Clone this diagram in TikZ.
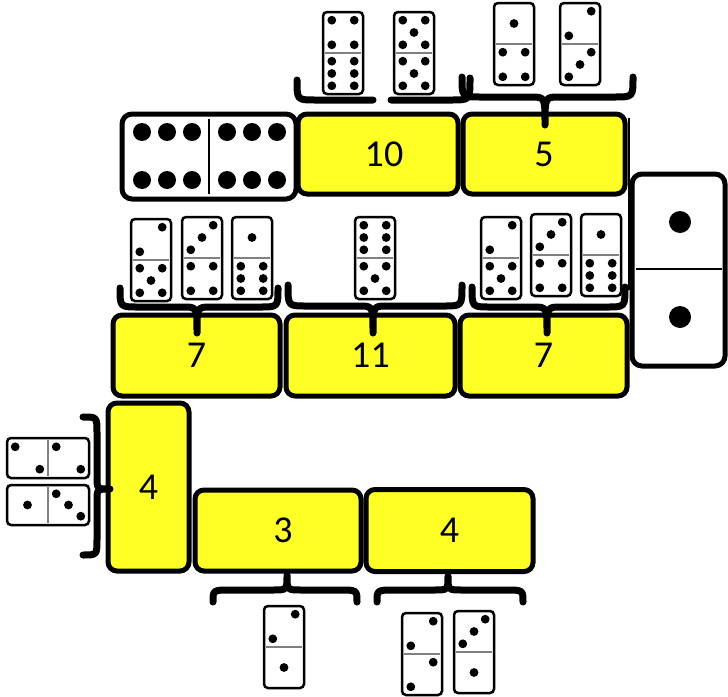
\documentclass[tikz,border=0pt]{standalone}
\usepackage{fontspec}
\setmainfont{Carlito}
\usetikzlibrary{positioning}

\definecolor{boxyellow}{RGB}{255,255,38}

% pips of one half of a domino (the half is the unit square)
\newcommand{\pips}[1]{%
  \ifcase#1\or
    \def\piplist{0.5/0.5}\or
    \def\piplist{0.78/0.2,0.22/0.8}\or
    \def\piplist{0.78/0.2,0.5/0.5,0.22/0.8}\or
    \def\piplist{0.22/0.2,0.78/0.2,0.22/0.8,0.78/0.8}\or
    \def\piplist{0.22/0.2,0.78/0.2,0.5/0.5,0.22/0.8,0.78/0.8}\or
    \def\piplist{0.22/0.2,0.78/0.2,0.22/0.5,0.78/0.5,0.22/0.8,0.78/0.8}\fi
  \foreach \pipx/\pipy in \piplist {\fill (\pipx,\pipy) circle[radius=4.4pt];}}

% small domino: [rotation]{x}{y}{top}{bottom}
\newcommand{\domino}[5][0]{%
  \begin{scope}[shift={(#2,#3)}, rotate=#1, x=40pt, y=-41pt]
    \draw[domino] (0,0) rectangle (1,2);
    \draw[pip line] (0.06,1) -- (0.94,1);
    \pips{#4}
    \begin{scope}[shift={(0,1)}]\pips{#5}\end{scope}
  \end{scope}}

% brace: left x, right x, line y, tip x, curl dy, tip dy
\newcommand{\hbrace}[6]{%
  \draw[brace line] (#1,{#3+(#5)}) .. controls (#1,#3) .. ({#1+18},#3)
    -- ({#4-14},#3) .. controls (#4,#3) .. (#4,{#3+(#6)})
    .. controls (#4,#3) .. ({#4+14},#3) -- ({#2-18},#3)
    .. controls (#2,#3) .. (#2,{#3+(#5)});}

\begin{document}
\begin{tikzpicture}[
        x=1pt, y=-1pt,
        num node/.style={rectangle, draw, line width=5pt, rounded corners=9pt,
                         fill=boxyellow, font=\fontsize{38}{42}\selectfont},
        domino/.style={draw, fill=white, line width=2.5pt, rounded corners=4pt},
        pip line/.style={draw=gray, line width=1.5pt},
        big domino/.style={draw, fill=white, line width=5pt, rounded corners=10pt},
        brace line/.style={line width=7pt, line cap=round, line join=round}
        ]
  \useasboundingbox (0,0) rectangle (728,696);

  % brace over the 10, its tip hidden
  \draw[brace line] (297,80) .. controls (297,100) .. (315,100) -- (373,100);
  \draw[brace line] (391,100) -- (452,100) .. controls (470,100) .. (470,78);

  % double six
  \draw[big domino] (122,114) rectangle (296,199);
  \draw[line width=1.5pt] (209,119) -- (209,194);
  \foreach \dx in {142,167,192,227,252,277}
    \foreach \dy in {132,180}
      \fill (\dx,\dy) circle[radius=9pt];

  % double one on the right
  \draw[big domino] (632,174) rectangle (725,366);
  \draw[line width=1.5pt] (636,269) -- (722,269);
  \fill (680,222) circle[radius=11pt] (680,317) circle[radius=11pt];
  \draw[line width=2pt] (629,118) -- (629,290);

  % number boxes
  \node[num node, minimum width=160pt, minimum height=80pt] (n10) at (378,154) {\hspace*{12pt}10};
  \node[num node, minimum width=162pt, minimum height=80pt] (n5) [right=0pt of n10] {5};
  \node[num node, minimum width=167pt, minimum height=81pt] (n7a) at (196.5,355.5) {7};
  \node[num node, minimum width=169pt, minimum height=81pt] (n11) [right=1pt of n7a] {11};
  \node[num node, minimum width=167pt, minimum height=81pt] (n7b) [right=0pt of n11] {7};
  \node[num node, minimum width=81pt, minimum height=168pt] (n4v) at (148.5,487) {4};
  \node[num node, minimum width=166pt, minimum height=81pt] (n3) at (278,530.5) {\hspace*{10pt}3};
  \node[num node, minimum width=167pt, minimum height=82pt] (n4h) [right=0pt of n3] {4};

  % braces
  \hbrace{462}{633}{97}{545}{-20}{28}
  \hbrace{120}{278}{307}{197}{-19}{26}
  \hbrace{288}{462}{306}{373}{-21}{27}
  \hbrace{472}{625}{307}{547}{-20}{26}
  \hbrace{213}{357}{590}{287}{12}{-15}
  \hbrace{377}{523}{590}{448}{12}{-14}
  \draw[brace line] (83,417) .. controls (97,417) .. (97,433) -- (97,477)
    .. controls (97,489) .. (110,489) .. controls (97,489) .. (97,501)
    -- (97,539) .. controls (97,555) .. (83,555);

  % small dominoes
  \domino{323}{12}{4}{6}
  \domino{394}{12}{5}{5}
  \domino{494}{3}{1}{4}
  \domino{560}{3}{2}{3}
  \domino{131}{219}{2}{5}
  \domino{182}{217}{3}{4}
  \domino{232}{217}{1}{6}
  \domino{355}{217}{6}{5}
  \domino{481}{217}{2}{5}
  \domino{531}{214}{3}{4}
  \domino{581}{214}{1}{6}
  \domino[90]{7}{478}{2}{2}
  \domino[90]{7}{525}{1}{3}
  \domino{264}{606}{2}{1}
  \domino{402}{613}{2}{2}
  \domino{454}{611}{3}{1}
\end{tikzpicture}
\end{document}
